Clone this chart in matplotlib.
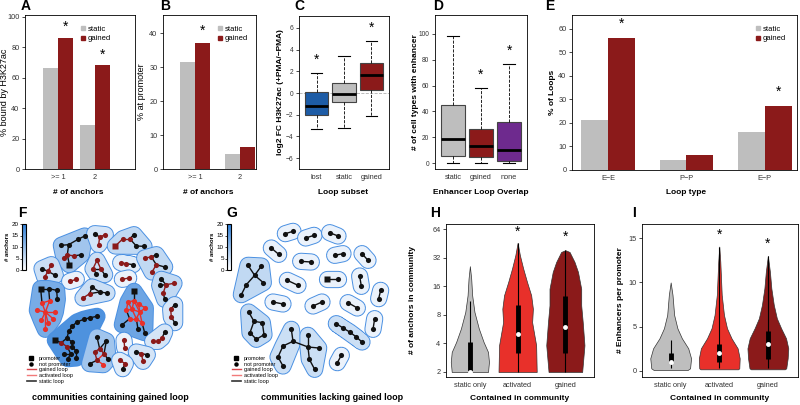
import numpy as np
import matplotlib
matplotlib.use("Agg")
import matplotlib.pyplot as plt
from matplotlib.patches import Polygon
from matplotlib.lines import Line2D
from matplotlib.colors import LinearSegmentedColormap, Normalize
from matplotlib.cm import ScalarMappable

plt.rcParams['font.family'] = ['Liberation Sans', 'DejaVu Sans']
plt.rcParams['axes.linewidth'] = 0.6

W, H = 800, 405
GREY = '#bebebe'
DRED = '#8b1a1a'
RED = '#e8302a'
BLUE = '#1d5ca6'
PURPLE = '#6e2a8e'
OUTLINE = '#4a90e2'
CMAP = LinearSegmentedColormap.from_list('anch', ['#ffffff', '#2f7fd8'])

# ---------------- data ----------------
a_ticks = ['>= 1', '2']
a_static = [66.5, 29]
a_gained = [86, 68]
a_star = [93.5, 75]

b_ticks = ['>= 1', '2']
b_static = [31.5, 4.5]
b_gained = [37, 6.5]
b_star = [40.8]

c_ticks = ['lost', 'static', 'gained']
c_lo = [-3.3, -3.2, -2.1]
c_q1 = [-2.0, -0.8, 0.3]
c_med = [-1.2, -0.1, 1.7]
c_q3 = [0.1, 0.9, 2.75]
c_hi = [1.85, 3.4, 4.8]
c_star = [3.05, None, 6.0]

d_ticks = ['static', 'gained', 'none']
d_lo = [0, 0, 0]
d_q1 = [6, 5, 2]
d_med = [19, 13, 10]
d_q3 = [45, 26.5, 32]
d_hi = [98, 58, 77]
d_star = [None, 68, 87]

e_ticks = ['E\u2212E', 'P\u2212P', 'E\u2212P']
e_static = [21.2, 4.3, 16.3]
e_gained = [56, 6.5, 27]
e_star = [62, None, 33]

v_ticks = ['static only', 'activated', 'gained']

# H: anchors per community (violin outline: level, relative half-width)
h_y = [[2, 2.55, 3.25, 4.14, 5.74, 8.6, 12.9, 19.3, 26.2],
       [2, 3.83, 6.7, 9.3, 12.9, 17.9, 24.8, 34.1, 46.2],
       [2, 3.83, 6.7, 10.1, 15.1, 22.8, 29.0, 37.0, 38.6]]
h_w = [[0.95, 1.0, 0.95, 0.72, 0.47, 0.24, 0.12, 0.07, 0],
       [1.0, 0.97, 0.76, 0.8, 0.71, 0.49, 0.29, 0.12, 0],
       [0.88, 1.0, 0.91, 0.83, 0.83, 0.66, 0.48, 0.22, 0]]
h_lo = [2, 2, 2]
h_q1 = [2.06, 3.15, 3.15]
h_med = [2.0, 5.0, 6.0]
h_q3 = [4.1, 10.2, 12.7]
h_hi = [11.2, 46.2, 38.6]
h_star = [None, 60.6, 53.8]

# I: enhancers per promoter
i_y = [[0.11, 0.3, 1.43, 2.56, 3.69, 4.82, 6.33, 8.59, 10.0],
       [0.19, 0.3, 1.43, 2.56, 3.69, 4.82, 6.33, 8.59, 12.35, 14.05],
       [0.19, 0.3, 1.43, 2.56, 3.69, 4.82, 5.95, 7.46, 9.34, 11.2, 13.0]]
i_w = [[0.83, 0.95, 1.0, 0.86, 0.55, 0.33, 0.17, 0.09, 0],
       [0.92, 0.98, 1.0, 0.9, 0.6, 0.38, 0.23, 0.12, 0.05, 0],
       [0.83, 0.9, 0.97, 1.0, 0.89, 0.65, 0.44, 0.29, 0.17, 0.1, 0]]
i_lo = [0.3, 0.3, 0.3]
i_q1 = [1.0, 1.0, 1.4]
i_med = [1.0, 2.0, 3.0]
i_q3 = [2.0, 3.0, 4.5]
i_hi = [3.5, 14.0, 13.0]
i_star = [None, 15.4, 14.4]

# F: communities containing a gained loop (layout coords, edge type k/g/a)
f_nodes = [
    [(100, 70), (122, 68), (150, 52), (170, 42), (118, 98), (137, 102), (108, 108), (124, 128), (160, 98)],
    [(200, 35), (215, 45), (232, 38), (212, 68)],
    [(262, 72), (285, 50), (305, 50), (318, 38), (325, 72), (348, 73)],
    [(60, 148), (42, 140), (70, 128), (50, 165), (82, 160)],
    [(207, 115), (195, 140), (218, 140), (230, 158), (205, 155)],
    [(278, 122), (295, 125), (315, 128)],
    [(125, 178), (145, 172)],
    [(283, 172), (302, 168)],
    [(350, 108), (370, 105), (385, 98), (385, 128), (410, 135), (372, 150)],
    [(165, 228), (185, 215), (215, 210), (237, 213), (192, 195)],
    [(400, 172), (395, 190), (414, 188), (438, 184), (406, 212), (410, 232)],
    [(38, 200), (62, 200), (86, 205), (88, 232), (65, 236), (42, 243), (52, 270),
     (28, 265), (82, 270), (40, 295), (60, 302), (75, 290), (52, 322)],
    [(318, 208), (300, 240), (318, 236), (332, 246), (295, 265), (312, 262), (335, 270),
     (352, 258), (305, 290), (325, 290), (342, 302), (283, 308), (330, 322), (350, 332)],
    [(440, 248), (428, 262), (430, 285), (440, 302)],
    [(207, 283), (187, 287), (167, 292), (147, 300), (133, 312), (122, 328), (117, 348),
     (82, 355), (100, 362), (118, 375), (133, 374), (128, 395), (145, 388), (108, 395),
     (120, 410), (145, 408), (132, 360)],
    [(207, 345), (235, 357), (215, 380), (228, 395), (200, 390), (207, 415), (226, 428),
     (185, 425), (240, 412)],
    [(410, 330), (402, 348), (390, 358), (374, 358)],
    [(288, 355), (290, 377)],
    [(325, 390), (340, 395), (358, 398), (345, 418)],
    [(275, 415), (292, 425), (284, 440)],
]
f_edges = [
    [(0, 1, 'k'), (1, 2, 'k'), (2, 3, 'k'), (1, 4, 'k'), (4, 5, 'g'), (4, 6, 'g'), (5, 8, 'k'), (4, 7, 'k')],
    [(0, 1, 'k'), (1, 2, 'g'), (1, 3, 'g')],
    [(0, 1, 'g'), (1, 2, 'g'), (2, 3, 'k'), (2, 4, 'k'), (4, 5, 'k')],
    [(0, 1, 'k'), (0, 2, 'g'), (0, 3, 'g'), (0, 4, 'k')],
    [(0, 1, 'g'), (0, 2, 'g'), (1, 4, 'k'), (2, 3, 'k'), (1, 2, 'k')],
    [(0, 1, 'g'), (1, 2, 'k')],
    [(0, 1, 'g')],
    [(0, 1, 'g')],
    [(0, 1, 'g'), (1, 2, 'k'), (1, 3, 'k'), (3, 4, 'k'), (3, 5, 'g')],
    [(0, 1, 'g'), (1, 2, 'k'), (2, 3, 'k'), (1, 4, 'k'), (4, 2, 'k')],
    [(0, 2, 'k'), (1, 2, 'k'), (2, 3, 'g'), (2, 4, 'g'), (4, 5, 'k')],
    [(0, 1, 'k'), (1, 2, 'k'), (2, 3, 'k'), (1, 4, 'k'), (0, 5, 'k'), (4, 5, 'a'), (6, 4, 'a'),
     (6, 5, 'a'), (6, 7, 'a'), (6, 8, 'a'), (6, 9, 'a'), (6, 10, 'a'), (6, 11, 'a'), (6, 12, 'a')],
    [(0, 2, 'k'), (1, 2, 'a'), (2, 3, 'a'), (1, 4, 'a'), (1, 5, 'a'), (2, 5, 'a'), (3, 6, 'a'),
     (3, 7, 'a'), (5, 6, 'a'), (4, 5, 'a'), (6, 7, 'a'), (5, 9, 'a'), (6, 9, 'a'), (9, 10, 'a'),
     (6, 10, 'a'), (4, 8, 'k'), (8, 9, 'a'), (8, 11, 'k'), (9, 12, 'k'), (10, 13, 'k'), (2, 6, 'a')],
    [(0, 1, 'k'), (1, 2, 'g'), (2, 3, 'k')],
    [(0, 1, 'k'), (1, 2, 'k'), (2, 3, 'k'), (3, 4, 'k'), (4, 5, 'k'), (5, 6, 'k'), (6, 16, 'k'),
     (6, 8, 'k'), (8, 7, 'k'), (8, 9, 'g'), (9, 10, 'k'), (10, 16, 'k'), (9, 11, 'k'),
     (10, 12, 'k'), (11, 13, 'k'), (11, 14, 'k'), (12, 15, 'k')],
    [(0, 2, 'k'), (1, 2, 'k'), (2, 3, 'g'), (2, 4, 'g'), (4, 5, 'g'), (3, 5, 'a'), (5, 6, 'a'),
     (5, 7, 'k'), (3, 8, 'k'), (1, 3, 'k')],
    [(0, 1, 'k'), (1, 2, 'g'), (2, 3, 'g')],
    [(0, 1, 'g')],
    [(0, 1, 'k'), (1, 2, 'k'), (1, 3, 'g')],
    [(0, 1, 'g'), (1, 2, 'k')],
]
f_prom = [[7], [], [0], [], [], [], [], [], [], [], [], [0], [0], [], [7], [], [], [], [], []]

# G: communities lacking a gained loop
g_nodes = [
    [(172, 35), (195, 28)], [(233, 48), (258, 40)], [(305, 32), (330, 42)],
    [(130, 78), (152, 97)], [(218, 118), (250, 120)], [(320, 100), (345, 95)],
    [(402, 95), (420, 115)], [(178, 175), (210, 190)], [(298, 170), (330, 170)],
    [(395, 162), (400, 193)], [(458, 205), (452, 230)], [(135, 240), (165, 246)],
    [(255, 252), (282, 240)], [(360, 242), (388, 258)], [(440, 290), (435, 322)],
    [(340, 400), (328, 422)],
    [(325, 305), (345, 318), (365, 330), (385, 345), (402, 360)],
    [(60, 130), (100, 132), (80, 160), (106, 182), (55, 188), (40, 218)],
    [(62, 270), (78, 298), (103, 302), (108, 338), (85, 352), (66, 332)],
    [(190, 322), (195, 358), (165, 372), (150, 405), (165, 432)],
    [(240, 340), (240, 375), (272, 378), (244, 412), (260, 442)],
]
g_edges = [[(0, 1, 'k')]] * 16 + [
    [(0, 1, 'k'), (1, 2, 'k'), (2, 3, 'k'), (3, 4, 'k')],
    [(0, 2, 'k'), (1, 2, 'k'), (2, 3, 'k'), (2, 4, 'k'), (4, 5, 'k')],
    [(0, 1, 'k'), (1, 2, 'k'), (2, 3, 'k'), (3, 4, 'k'), (4, 5, 'k'), (5, 1, 'k')],
    [(0, 1, 'k'), (1, 2, 'k'), (2, 3, 'k'), (3, 4, 'k')],
    [(0, 1, 'k'), (1, 2, 'k'), (1, 3, 'k'), (3, 4, 'k')],
]
g_prom = [[]] * 8 + [[0]] + [[]] * 12
g_bridges = [((19, 1), (20, 1))]

# ---------------- helpers ----------------
fig = plt.figure(figsize=(8, 4.05), dpi=100)


def box(l, t, r, b):
    return fig.add_axes([l / W, 1 - b / H, (r - l) / W, (b - t) / H])


def style(ax, size=5.3):
    ax.tick_params(axis='y', length=2.5, width=0.5, pad=1.5, labelsize=size, labelcolor='#333')
    ax.tick_params(axis='x', length=0, pad=3.5, labelsize=5.3, labelcolor='#333')


def labels(ax, xl, xy, yl, yx, yy, ybold=True, ysize=6):
    ax.set_xlabel(xl, fontsize=6, fontweight='bold')
    ax.xaxis.set_label_coords(xy[0] / W, 1 - xy[1] / H, transform=fig.transFigure)
    ax.xaxis.label.set_va('center')
    ax.set_ylabel(yl, fontsize=ysize, fontweight='bold' if ybold else 'normal')
    ax.yaxis.set_label_coords(yx / W, 1 - yy / H, transform=fig.transFigure)
    ax.yaxis.label.set_va('center')


def letter(s, x, y):
    fig.text(x / W, 1 - y / H, s, fontsize=10, fontweight='bold', ha='left', va='center')


def stars(ax, xs, ys):
    for x, y in zip(xs, ys):
        if y is not None:
            ax.text(x, y, '*', ha='center', va='center', fontsize=10)


def bar_legend(ax, x, y):
    hs = [Line2D([], [], marker='s', ls='', color=GREY, ms=3.5, label='static'),
          Line2D([], [], marker='s', ls='', color=DRED, ms=3.5, label='gained')]
    ax.legend(handles=hs, loc='upper left', bbox_to_anchor=(x / W, 1 - y / H),
              bbox_transform=fig.transFigure, frameon=False, fontsize=5.5,
              handletextpad=0.2, labelspacing=0.25, borderpad=0, handlelength=1)


def bars(ax, static, gained, bw, ticks):
    x = np.arange(len(static))
    ax.bar(x - bw / 2, static, bw, color=GREY)
    ax.bar(x + bw / 2, gained, bw, color=DRED)
    ax.set_xticks(x, ticks)
    return x + bw / 2


def boxes(ax, lo, q1, med, q3, hi, colors, ticks):
    st = [dict(whislo=a, q1=b, med=c, q3=d, whishi=e, fliers=[])
          for a, b, c, d, e in zip(lo, q1, med, q3, hi)]
    bp = ax.bxp(st, positions=[1, 2, 3], widths=0.86, patch_artist=True, showfliers=False,
                whiskerprops=dict(ls='--', lw=0.6), capprops=dict(lw=0.8),
                medianprops=dict(color='k', lw=2), boxprops=dict(lw=0.8, edgecolor='#444'))
    for p, c in zip(bp['boxes'], colors):
        p.set_facecolor(c)
    ax.set_xticks([1, 2, 3], ticks)
    ax.set_xlim(0.36, 3.64)


def violins(ax, ys, ws, lo, q1, med, q3, hi, colors, maxw):
    for k in range(3):
        x = k + 1
        w = np.array(ws[k]) * maxw
        ax.fill_betweenx(ys[k], x - w, x + w, facecolor=colors[k], edgecolor='#333', lw=0.5)
        ax.vlines(x, lo[k], hi[k], color='k', lw=0.8)
        ax.vlines(x, q1[k], q3[k], color='k', lw=3.5)
        ax.plot(x, med[k], 'o', mfc='white', mec='none', ms=3.5)
    ax.set_xticks([1, 2, 3], v_ticks)
    ax.set_xlim(0.5, 3.6)


def hull(pts):
    p = sorted(set(map(tuple, pts)))
    if len(p) <= 2:
        return np.array(p, float)

    def cross(o, a, b):
        return (a[0] - o[0]) * (b[1] - o[1]) - (a[1] - o[1]) * (b[0] - o[0])
    lower, upper = [], []
    for q in p:
        while len(lower) >= 2 and cross(lower[-2], lower[-1], q) <= 0:
            lower.pop()
        lower.append(q)
    for q in reversed(p):
        while len(upper) >= 2 and cross(upper[-2], upper[-1], q) <= 0:
            upper.pop()
        upper.append(q)
    return np.array(lower[:-1] + upper[:-1], float)


ECOL = {'k': '#111111', 'g': DRED, 'a': RED}


def network(ax, nodes, edges, proms, bridges=()):
    for pts in nodes:
        h = hull(pts)
        fc = CMAP(min(len(pts), 20) / 20)
        ax.add_patch(Polygon(h, closed=True, fc=OUTLINE, ec=OUTLINE, lw=12.4,
                             joinstyle='round', capstyle='round', zorder=1))
        ax.add_patch(Polygon(h, closed=True, fc=fc, ec=fc, lw=11,
                             joinstyle='round', capstyle='round', zorder=1))
    for (c1, n1), (c2, n2) in bridges:
        a, b = nodes[c1][n1], nodes[c2][n2]
        ax.plot([a[0], b[0]], [a[1], b[1]], color=ECOL['k'], lw=1.0, zorder=3)
    for pts, es, pr in zip(nodes, edges, proms):
        col = ['k'] * len(pts)
        for i, j, t in es:
            a, b = pts[i], pts[j]
            ax.plot([a[0], b[0]], [a[1], b[1]], color=ECOL[t], lw=1.0, zorder=3)
            for n in (i, j):
                if t == 'g' or (t == 'a' and col[n] == 'k'):
                    col[n] = t
        for n, (x, y) in enumerate(pts):
            ax.plot(x, y, marker='s' if n in pr else 'o', color=ECOL[col[n]], ms=3.7,
                    mec='none', zorder=4)
    ax.set_aspect('equal')
    ax.axis('off')


def anchors_bar(l, t, r, b):
    cax = box(l, t, r, b)
    cb = fig.colorbar(ScalarMappable(Normalize(0, 20), CMAP), cax=cax)
    cb.outline.set_linewidth(0.8)
    cb.set_ticks([0, 5, 10, 15, 20])
    cax.yaxis.set_ticks_position('left')
    cax.yaxis.set_label_position('left')
    cax.tick_params(length=1.5, width=0.5, pad=0.8, labelsize=4.5)
    cb.set_label('# anchors', fontsize=4.3, fontweight='bold', labelpad=1)


def net_legend(x, y):
    hs = [Line2D([], [], marker='s', ls='', color='k', ms=2.2, label='promoter'),
          Line2D([], [], marker='o', ls='', color='k', ms=2.2, label='not promoter'),
          Line2D([], [], color='#d9434a', lw=1, label='gained loop'),
          Line2D([], [], color='#f27a7a', lw=1, label='activated loop'),
          Line2D([], [], color='#333333', lw=1.2, label='static loop')]
    fig.legend(handles=hs, loc='upper left', bbox_to_anchor=(x / W, 1 - y / H), frameon=False,
               fontsize=4, handlelength=1.6, handletextpad=0.6, labelspacing=0.15, borderpad=0)


# ---------------- A ----------------
axA = box(25, 15, 135, 169)
sx = bars(axA, a_static, a_gained, 0.405, a_ticks)
stars(axA, sx, a_star)
axA.set_xlim(-0.89, 2.08)
axA.set_ylim(0, 101)
axA.set_yticks(range(0, 101, 20))
style(axA)
labels(axA, '# of anchors', (78, 192), '% bound by H3K27ac', 5, 92, ybold=False, ysize=6.5)
bar_legend(axA, 75, 22)
letter('A', 21, 6)

# ---------------- B ----------------
axB = box(163, 15, 256, 169)
sx = bars(axB, b_static, b_gained, 0.333, b_ticks)
stars(axB, sx[:1], b_star)
axB.set_xlim(-0.71, 1.36)
axB.set_ylim(0, 45.3)
axB.set_yticks(range(0, 41, 10))
style(axB)
labels(axB, '# of anchors', (208, 192), '% at promoter', 141, 92, ybold=False, ysize=6.5)
bar_legend(axB, 212, 22)
letter('B', 160, 6)

# ---------------- C ----------------
axC = box(299, 16, 389, 169)
axC.axhline(0, color='#b0b0b0', ls='--', lw=0.6, zorder=0)
boxes(axC, c_lo, c_q1, c_med, c_q3, c_hi, [BLUE, GREY, DRED], c_ticks)
stars(axC, [1, 2, 3], c_star)
axC.set_ylim(-7, 7.1)
axC.set_yticks(range(-6, 7, 2))
style(axC, 4.8)
labels(axC, 'Loop subset', (343, 192), 'log2 FC H3K27ac (+PMA/\u2212PMA)', 281, 92)
letter('C', 294, 6)

# ---------------- D ----------------
axD = box(435, 15, 527, 169)
boxes(axD, d_lo, d_q1, d_med, d_q3, d_hi, [GREY, DRED, PURPLE], d_ticks)
stars(axD, [1, 2, 3], d_star)
axD.set_ylim(-4.4, 114.5)
axD.set_yticks(range(0, 101, 20))
style(axD, 4.8)
labels(axD, 'Enhancer Loop Overlap', (481, 192), '# of cell types with enhancer', 415, 92)
letter('D', 433, 6)

# ---------------- E ----------------
axE = box(572, 15, 797, 170)
sx = bars(axE, e_static, e_gained, 0.34, e_ticks)
stars(axE, sx, e_star)
axE.set_xlim(-0.46, 2.41)
axE.set_ylim(0, 65.8)
axE.set_yticks(range(0, 61, 10))
style(axE)
labels(axE, 'Loop type', (686, 192), '% of Loops', 553, 92)
bar_legend(axE, 750, 22)
letter('E', 545, 6)

# ---------------- F ----------------
axF = box(28, 222, 188, 382)
network(axF, f_nodes, f_edges, f_prom)
axF.set_xlim(0, 480)
axF.set_ylim(480, 0)
anchors_bar(22, 224, 26, 270)
net_legend(24, 353)
fig.text(110 / W, 1 - 398 / H, 'communities containing gained loop', fontsize=6.5,
         fontweight='bold', ha='center', va='center')
letter('F', 18, 213)

# ---------------- G ----------------
axG = box(228, 222, 393, 387)
network(axG, g_nodes, g_edges, g_prom, g_bridges)
axG.set_xlim(0, 495)
axG.set_ylim(495, 0)
anchors_bar(227, 224, 231, 270)
net_legend(229, 353)
fig.text(332 / W, 1 - 398 / H, 'communities lacking gained loop', fontsize=6.5,
         fontweight='bold', ha='center', va='center')
letter('G', 226, 213)

# ---------------- H ----------------
axH = box(446, 224, 594, 377)
axH.set_yscale('log', base=2)
violins(axH, h_y, h_w, h_lo, h_q1, h_med, h_q3, h_hi, [GREY, RED, DRED], 0.40)
stars(axH, [1, 2, 3], h_star)
axH.set_ylim(1.77, 73)
axH.set_yticks([2, 4, 8, 16, 32, 64], ['2', '4', '8', '16', '32', '64'])
axH.minorticks_off()
style(axH)
labels(axH, 'Contained in community', (520, 399), '# of anchors in community', 413, 300)
letter('H', 430, 213)

# ---------------- I ----------------
axI = box(642, 224, 798, 377)
violins(axI, i_y, i_w, i_lo, i_q1, i_med, i_q3, i_hi, [GREY, RED, DRED], 0.42)
stars(axI, [1, 2, 3], i_star)
axI.set_ylim(-0.68, 16.6)
axI.set_xlim(0.41, 3.62)
axI.set_yticks([0, 5, 10, 15])
style(axI)
labels(axI, 'Contained in community', (720, 399), '# Enhancers per promoter', 620, 300)
letter('I', 632, 213)

fig.savefig('out.png', dpi=100)
